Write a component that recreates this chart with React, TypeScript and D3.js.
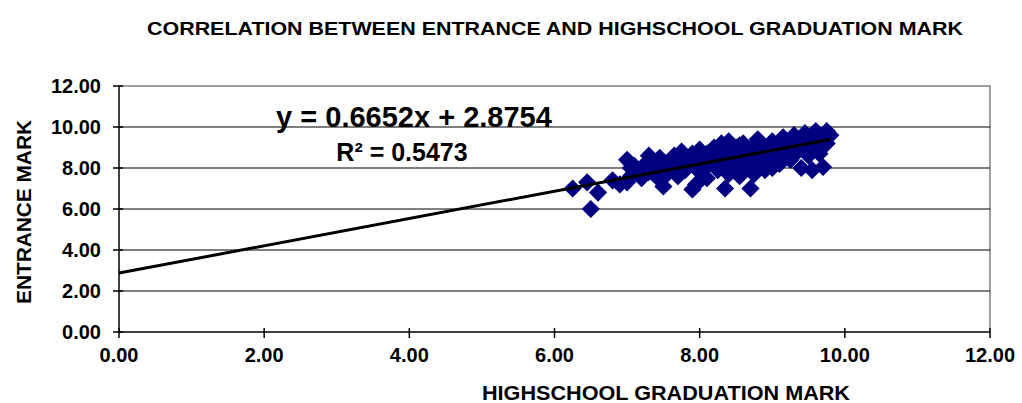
import React, { useEffect, useRef } from "react";
import * as d3 from "d3";

// highschool graduation mark (x) and entrance mark (y)
const hsMarks = [
  6.25, 6.45, 6.5, 6.6, 6.8, 6.9, 7.0, 7.0, 7.05, 7.1, 7.15, 7.2, 7.25, 7.3, 7.3, 7.35,
  7.4, 7.45, 7.5, 7.5, 7.55, 7.6, 7.65, 7.7, 7.7, 7.75, 7.8, 7.8, 7.85, 7.9, 7.9, 7.95,
  7.95, 8.0, 8.0, 8.05, 8.1, 8.1, 8.15, 8.2, 8.2, 8.25, 8.3, 8.3, 8.35, 8.35, 8.4, 8.4,
  8.45, 8.5, 8.5, 8.55, 8.55, 8.6, 8.6, 8.65, 8.7, 8.7, 8.75, 8.8, 8.8, 8.85, 8.9, 8.9,
  8.95, 9.0, 9.0, 9.05, 9.1, 9.1, 9.15, 9.2, 9.2, 9.25, 9.3, 9.3, 9.35, 9.4, 9.4, 9.45,
  9.5, 9.5, 9.55, 9.55, 9.6, 9.6, 9.65, 9.7, 9.7, 9.75, 9.75, 9.8, 8.0, 8.25, 8.6, 8.45,
  9.0, 8.75, 7.6, 7.4, 7.05, 7.35, 8.1, 8.55,
];
const entranceMarks = [
  7.0, 7.3, 6.0, 6.8, 7.4, 7.2, 7.3, 8.4, 7.6, 8.1, 7.9, 7.5, 8.2, 8.6, 7.8, 8.4,
  8.0, 8.5, 7.1, 8.3, 7.7, 8.0, 8.6, 8.2, 7.6, 8.8, 8.4, 7.9, 8.1, 8.7, 6.95, 7.2,
  8.3, 8.9, 7.8, 8.5, 8.1, 7.5, 8.8, 9.0, 8.3, 7.9, 8.6, 9.2, 7.0, 8.4, 9.3, 7.7,
  8.9, 8.2, 9.0, 8.6, 7.6, 9.2, 8.0, 8.8, 7.0, 8.4, 9.1, 8.7, 9.4, 8.2, 9.0, 7.9,
  8.6, 9.3, 8.4, 8.9, 9.1, 8.2, 9.5, 8.7, 9.2, 8.4, 9.0, 9.6, 8.8, 8.0, 9.3, 9.7,
  9.0, 8.6, 7.9, 9.4, 9.8, 9.1, 8.7, 8.05, 9.5, 9.8, 9.2, 9.6, 8.5, 8.7, 8.5, 8.0,
  8.0, 7.7, 8.4, 7.6, 8.0, 8.1, 8.7, 9.1,
];

const slope = 0.6652;
const intercept = 2.8754;
const axisTicks = [0, 2, 4, 6, 8, 10, 12];

const W = 1022;
const H = 403;
const FONT = "'Liberation Sans', Arial, sans-serif";

export default function App() {
  const ref = useRef<SVGSVGElement>(null);

  useEffect(() => {
    if (!ref.current) return;
    const svg = d3.select(ref.current);
    svg.selectAll("*").remove();

    const x = d3.scaleLinear().domain([0, 12]).range([119, 990]);
    const y = d3.scaleLinear().domain([0, 12]).range([332, 86]);

    // plot area border (top/right) in gray
    svg.append("path")
      .attr("d", `M${x(0)},${y(12)}H${x(12)}V${y(0)}`)
      .attr("fill", "none")
      .attr("stroke", "#808080")
      .attr("stroke-width", 1.5);

    // horizontal gridlines
    svg.append("g")
      .selectAll("line")
      .data(axisTicks.filter((t) => t > 0 && t < 12))
      .join("line")
      .attr("x1", x(0))
      .attr("x2", x(12))
      .attr("y1", (d) => y(d))
      .attr("y2", (d) => y(d))
      .attr("stroke", "#000")
      .attr("stroke-width", 1.2);

    // axes
    const yAxis = svg.append("g").attr("transform", `translate(${x(0)},0)`);
    yAxis.append("line").attr("y1", y(0)).attr("y2", y(12)).attr("stroke", "#000").attr("stroke-width", 1.5);
    yAxis.selectAll("line.tick")
      .data(axisTicks)
      .join("line")
      .attr("class", "tick")
      .attr("x1", -6).attr("x2", 4)
      .attr("y1", (d) => y(d)).attr("y2", (d) => y(d))
      .attr("stroke", "#000").attr("stroke-width", 1.5);
    yAxis.selectAll("text")
      .data(axisTicks)
      .join("text")
      .attr("x", -18)
      .attr("y", (d) => y(d) + 7)
      .attr("text-anchor", "end")
      .style("font-family", FONT)
      .style("font-weight", "bold")
      .style("font-size", "20px")
      .text((d) => d3.format(".2f")(d));

    const xAxis = svg.append("g").attr("transform", `translate(0,${y(0)})`);
    xAxis.append("line").attr("x1", x(0)).attr("x2", x(12)).attr("stroke", "#000").attr("stroke-width", 1.5);
    xAxis.selectAll("line.tick")
      .data(axisTicks)
      .join("line")
      .attr("class", "tick")
      .attr("x1", (d) => x(d)).attr("x2", (d) => x(d))
      .attr("y1", -4).attr("y2", 6)
      .attr("stroke", "#000").attr("stroke-width", 1.5);
    xAxis.selectAll("text")
      .data(axisTicks)
      .join("text")
      .attr("x", (d) => x(d))
      .attr("y", 30)
      .attr("text-anchor", "middle")
      .style("font-family", FONT)
      .style("font-weight", "bold")
      .style("font-size", "20px")
      .text((d) => d3.format(".2f")(d));

    // scatter markers (diamonds)
    const points = hsMarks.map((v, i) => [v, entranceMarks[i]] as [number, number]);
    const diamond = d3.symbol().type(d3.symbolSquare).size(165);
    svg.append("g")
      .selectAll("path")
      .data(points)
      .join("path")
      .attr("d", diamond)
      .attr("transform", (d) => `translate(${x(d[0])},${y(d[1])}) rotate(45)`)
      .attr("fill", "#000080");

    // linear trendline
    const xMax = d3.max(hsMarks) as number;
    svg.append("line")
      .attr("x1", x(0))
      .attr("y1", y(intercept))
      .attr("x2", x(xMax))
      .attr("y2", y(slope * xMax + intercept))
      .attr("stroke", "#000")
      .attr("stroke-width", 3);

    // equation labels
    svg.append("text")
      .attr("x", 414)
      .attr("y", 127)
      .attr("text-anchor", "middle")
      .style("font-family", FONT)
      .style("font-weight", "bold")
      .style("font-size", "29px")
      .text(`y = ${slope}x + ${intercept}`);
    svg.append("text")
      .attr("x", 402)
      .attr("y", 161)
      .attr("text-anchor", "middle")
      .style("font-family", FONT)
      .style("font-weight", "bold")
      .style("font-size", "25px")
      .text("R² = 0.5473");

    // title
    svg.append("text")
      .attr("x", 147)
      .attr("y", 35)
      .attr("textLength", 816)
      .attr("lengthAdjust", "spacingAndGlyphs")
      .style("font-family", FONT)
      .style("font-weight", "bold")
      .style("font-size", "18px")
      .text("CORRELATION BETWEEN  ENTRANCE  AND HIGHSCHOOL  GRADUATION MARK");

    // axis titles
    svg.append("text")
      .attr("x", 482)
      .attr("y", 400)
      .attr("textLength", 368)
      .attr("lengthAdjust", "spacingAndGlyphs")
      .style("font-family", FONT)
      .style("font-weight", "bold")
      .style("font-size", "20px")
      .text("HIGHSCHOOL  GRADUATION  MARK");

    svg.append("text")
      .attr("transform", `translate(31,304) rotate(-90)`)
      .attr("textLength", 184)
      .attr("lengthAdjust", "spacingAndGlyphs")
      .style("font-family", FONT)
      .style("font-weight", "bold")
      .style("font-size", "21px")
      .text("ENTRANCE MARK");
  }, []);

  return (
    <svg
      ref={ref}
      width={W}
      height={H}
      style={{ position: "absolute", left: 0, top: 0, background: "#fff" }}
    />
  );
}
